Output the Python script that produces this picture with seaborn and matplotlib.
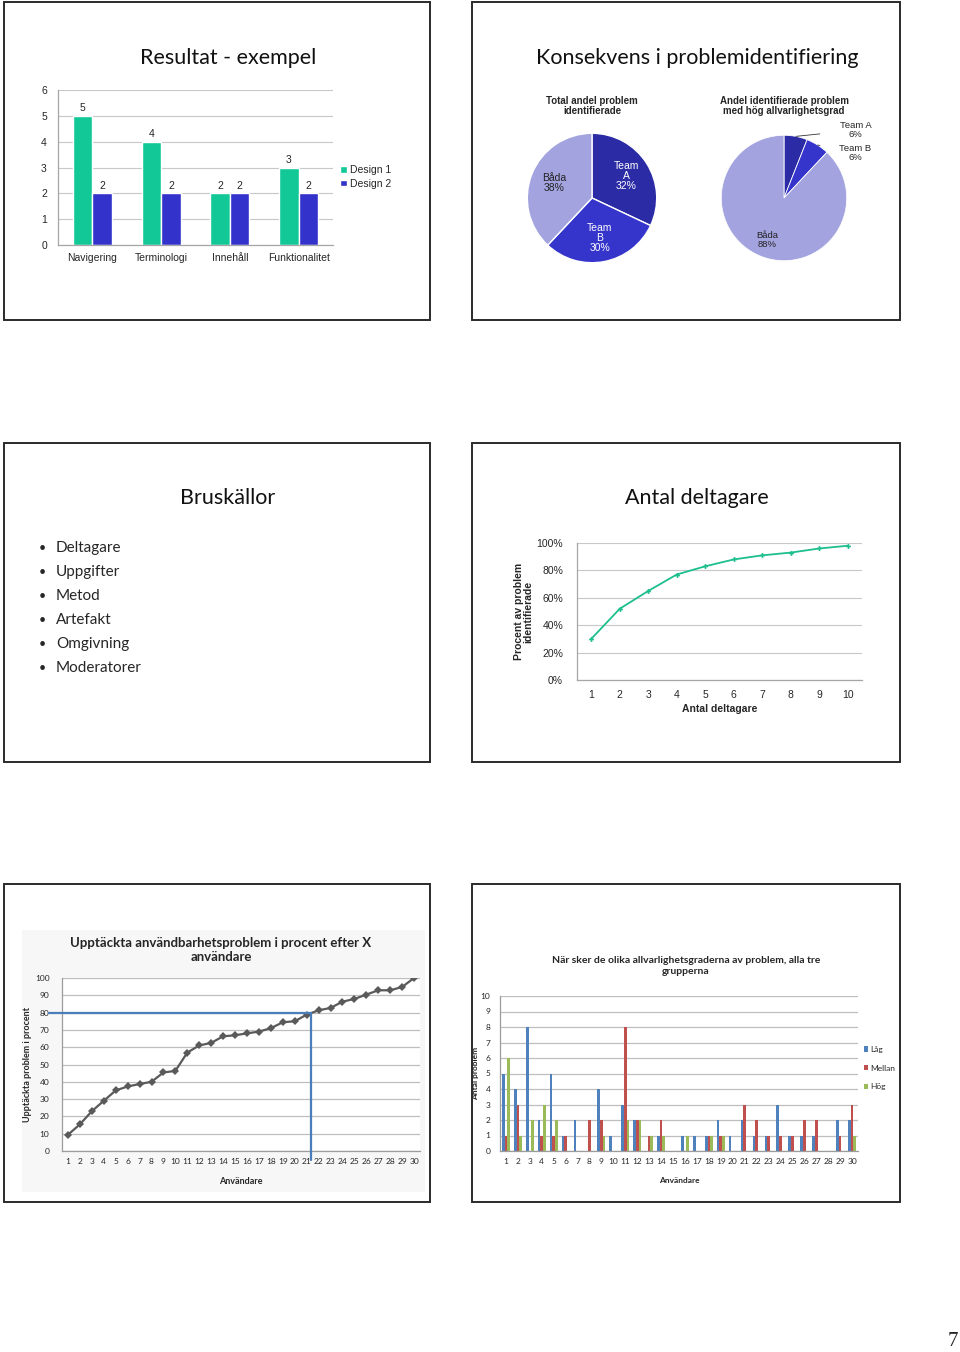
import numpy as np
import pandas as pd
import seaborn as sns
import matplotlib.pyplot as plt
from matplotlib.patches import Rectangle
from matplotlib.ticker import FuncFormatter

# sidans storlek i pixlar
W, H = 960, 1352

# --- data ---
kategorier = ["Navigering", "Terminologi", "Innehåll", "Funktionalitet"]
design_1 = [5, 4, 2, 3]
design_2 = [2, 2, 2, 2]

pie_namn = ["Team A", "Team B", "Båda"]
total_andel = [32, 30, 38]
hog_andel = [6, 6, 88]

bruskallor = ["Deltagare", "Uppgifter", "Metod", "Artefakt", "Omgivning", "Moderatorer"]

antal_deltagare = [1, 2, 3, 4, 5, 6, 7, 8, 9, 10]
procent_identifierade = [30, 52, 65, 77, 83, 88, 91, 93, 96, 98]

anvandare = [1, 2, 3, 4, 5, 6, 7, 8, 9, 10, 11, 12, 13, 14, 15,
             16, 17, 18, 19, 20, 21, 22, 23, 24, 25, 26, 27, 28, 29, 30]
upptackta = [9.4, 15.4, 23, 29, 35, 37.3, 38.7, 40, 45.4, 46.3,
             56.9, 61, 62.5, 66.3, 66.9, 68, 69, 71, 74.4, 75,
             78.8, 81.3, 82.7, 86.3, 87.9, 90.4, 92.9, 92.9, 94.8, 100]

lag    = [5, 4, 8, 2, 5, 1, 2, 0, 4, 1, 3, 2, 0, 1, 0, 1, 1, 1, 2, 1, 2, 1, 1, 3, 1, 1, 1, 0, 2, 2]
mellan = [1, 3, 0, 1, 1, 1, 0, 2, 2, 0, 8, 2, 1, 2, 0, 0, 0, 1, 1, 0, 3, 2, 1, 1, 1, 2, 2, 0, 1, 3]
hog    = [6, 1, 2, 3, 2, 0, 0, 0, 1, 0, 2, 2, 1, 1, 0, 1, 0, 1, 1, 0, 0, 0, 0, 0, 0, 0, 0, 0, 0, 1]

sns.set_style("white")
plt.rcParams["font.family"] = ["Liberation Sans", "DejaVu Sans"]

fig = plt.figure(figsize=(9.6, 13.52), dpi=100)


def rect(x0, y0, x1, y1):
    return [x0 / W, 1 - y1 / H, (x1 - x0) / W, (y1 - y0) / H]


def ftext(x, y, s, **kw):
    fig.text(x / W, 1 - y / H, s, **kw)


def kat_axel(ax, n, first, color="#A6A6A6"):
    # Excel-stil: streck mellan kategorierna
    ax.set_xticks(np.arange(n) + first)
    ax.set_xticks(np.arange(n + 1) + first - 0.5, minor=True)
    ax.tick_params(axis="x", which="major", length=0)
    ax.tick_params(axis="x", which="minor", length=4, color=color, direction="out")
    ax.tick_params(axis="y", length=0)
    for s in ["top", "right"]:
        ax.spines[s].set_visible(False)
    for s in ["left", "bottom"]:
        ax.spines[s].set_color(color)
        ax.spines[s].set_linewidth(0.9)


# ramar runt bilderna
ramar = [(4, 2, 430, 320), (472, 2, 900, 320),
         (4, 443, 430, 762), (472, 443, 900, 762),
         (4, 884, 430, 1202), (472, 884, 900, 1202)]
for x0, y0, x1, y1 in ramar:
    fig.add_artist(Rectangle((x0 / W, 1 - y1 / H), (x1 - x0) / W, (y1 - y0) / H,
                             transform=fig.transFigure, fill=False,
                             edgecolor="#2a2a2a", linewidth=1.4))

rubrik = dict(family=["Lato", "DejaVu Sans"], fontsize=15.5, ha="center", va="center", color="#111111")
ftext(228, 58, "Resultat - exempel", **rubrik)
ftext(697, 58, "Konsekvens i problemidentifiering", **rubrik)
ftext(228, 498, "Bruskällor", **rubrik)
ftext(697, 498, "Antal deltagare", **rubrik)

# 1. Resultat - exempel
gron, bla = "#12C896", "#3333CC"
df1 = pd.DataFrame({"kategori": kategorier * 2,
                    "serie": ["Design 1"] * 4 + ["Design 2"] * 4,
                    "antal": design_1 + design_2})
ax1 = fig.add_axes(rect(58, 90, 333, 245))
sns.barplot(data=df1, x="kategori", y="antal", hue="serie", palette=[gron, bla],
            width=0.57, saturation=1, ax=ax1)
ax1.set_ylim(0, 6)
ax1.set_xlim(-0.5, 3.5)
ax1.set_yticks(range(7))
ax1.yaxis.grid(True, color="#C8C8C8", linewidth=0.8)
ax1.set_axisbelow(True)
kat_axel(ax1, 4, 0)
ax1.set_xlabel("")
ax1.set_ylabel("")
ax1.tick_params(axis="x", labelsize=7.5, pad=6)
ax1.tick_params(axis="y", labelsize=7.5, pad=8)
for c in ax1.containers:
    ax1.bar_label(c, fmt="%d", padding=2, fontsize=7.5)
ax1.legend(loc="center left", bbox_to_anchor=(1.0, 0.44), frameon=False,
           fontsize=7.5, handlelength=0.6, handleheight=0.6, handletextpad=0.3,
           labelspacing=0.35, borderaxespad=0.3)

# 2. Konsekvens i problemidentifiering
pie_farger = ["#2B2BA6", "#3535CC", "#A3A3E0"]
ftext(592, 106, "Total andel problem\nidentifierade", fontsize=7, fontweight="bold",
      ha="center", va="center", linespacing=1.0)
ftext(784, 106, "Andel identifierade problem\nmed hög allvarlighetsgrad", fontsize=7,
      fontweight="bold", ha="center", va="center", linespacing=1.0)

ax2 = fig.add_axes(rect(526, 132, 658, 264))
kilar, _ = ax2.pie(total_andel, colors=pie_farger, startangle=90, counterclock=False,
                   wedgeprops=dict(edgecolor="white", linewidth=1.0))
ax2.set_xlim(-1.02, 1.02)
ax2.set_ylim(-1.02, 1.02)
ax2.set_aspect("equal")
for w, namn, v in zip(kilar, pie_namn, total_andel):
    t = np.deg2rad((w.theta1 + w.theta2) / 2)
    etikett = (namn.replace(" ", "\n") if namn.startswith("Team") else namn) + f"\n{v}%"
    ax2.text(0.63 * np.cos(t), 0.63 * np.sin(t), etikett, ha="center", va="center",
             fontsize=7.5, linespacing=1.0,
             color="white" if namn.startswith("Team") else "#222222")

ax3 = fig.add_axes(rect(720, 134, 848, 262))
kilar, _ = ax3.pie(hog_andel, colors=pie_farger, startangle=90, counterclock=False,
                   wedgeprops=dict(edgecolor="white", linewidth=0.6))
ax3.set_xlim(-1.02, 1.02)
ax3.set_ylim(-1.02, 1.02)
ax3.set_aspect("equal")
utanfor = [(1.14, 1.08), (1.14, 0.72)]
for w, namn, v, pos in zip(kilar[:2], pie_namn[:2], hog_andel[:2], utanfor):
    t = np.deg2rad((w.theta1 + w.theta2) / 2)
    ax3.annotate(f"{namn}\n{v}%", xy=(np.cos(t), np.sin(t)), xytext=pos,
                 ha="center", va="center", fontsize=6.8, linespacing=1.0,
                 arrowprops=dict(arrowstyle="-", color="#333333", lw=0.6,
                                 shrinkA=12, shrinkB=0))
w = kilar[2]
t = np.deg2rad((w.theta1 + w.theta2) / 2)
ax3.text(0.72 * np.cos(t), 0.72 * np.sin(t), f"{pie_namn[2]}\n{hog_andel[2]}%",
         ha="center", va="center", fontsize=6.8, linespacing=1.0, color="#222222")

# 3. Bruskällor
for i, punkt in enumerate(bruskallor):
    y = 548 + i * 24
    ftext(42, y, "•", fontsize=9, ha="center", va="center", family=["Lato", "DejaVu Sans"])
    ftext(56, y, punkt, fontsize=11, ha="left", va="center", family=["Lato", "DejaVu Sans"])

# 4. Antal deltagare
ax4 = fig.add_axes(rect(577, 543, 862, 680))
sns.lineplot(x=antal_deltagare, y=procent_identifierade, color="#1DBF8E", lw=1.3,
             marker="P", markersize=3.5, markeredgewidth=0, ax=ax4)
ax4.set_xlim(0.5, 10.5)
ax4.set_ylim(0, 100)
ax4.set_yticks(range(0, 101, 20))
ax4.yaxis.set_major_formatter(FuncFormatter(lambda v, p: f"{v:.0f}%"))
ax4.yaxis.grid(True, color="#C8C8C8", linewidth=0.8)
ax4.set_axisbelow(True)
kat_axel(ax4, 10, 1)
ax4.tick_params(axis="x", labelsize=7.5, pad=7)
ax4.tick_params(axis="y", labelsize=7.5, pad=10)
ax4.set_xlabel("Antal deltagare", fontsize=7.5, fontweight="bold", labelpad=3)
ax4.set_ylabel("Procent av problem\nidentifierade", fontsize=7.5, fontweight="bold",
               labelpad=2, linespacing=1.0)

# 5. Upptäckta användbarhetsproblem
calibri = ["Lato", "DejaVu Sans"]
fig.add_artist(Rectangle((22 / W, 1 - 1192 / H), 403 / W, 262 / H, transform=fig.transFigure,
                         facecolor="#F7F7F7", edgecolor="none", zorder=-1))
ftext(221, 950, "Upptäckta användbarhetsproblem i procent efter X\nanvändare",
      fontsize=9.5, fontweight="bold", ha="center", va="center", family=calibri,
      linespacing=1.2)
ax5 = fig.add_axes(rect(62, 978, 420, 1151))
ax5.set_facecolor("white")
sns.lineplot(x=anvandare, y=upptackta, color="#5A5A5A", lw=1.6, marker="D",
             markersize=4, markeredgewidth=0, ax=ax5)
ax5.set_xlim(0.5, 30.5)
ax5.set_ylim(0, 100)
ax5.set_yticks(range(0, 101, 10))
ax5.yaxis.grid(True, color="#BEBEBE", linewidth=0.9)
ax5.set_axisbelow(True)
kat_axel(ax5, 30, 1, color="#9C9C9C")
ax5.tick_params(axis="x", labelsize=6, pad=5)
ax5.tick_params(axis="y", labelsize=6, pad=9)
for lab in ax5.get_xticklabels() + ax5.get_yticklabels():
    lab.set_family(calibri)
ax5.set_xlabel("Användare", fontsize=6.5, fontweight="bold", family=calibri, labelpad=9)
ax5.set_ylabel("Upptäckta problem i procent", fontsize=6.5, fontweight="bold",
               family=calibri, labelpad=2)
# 80 %-linjen
ax5.plot([-0.6, 21.4], [80, 80], color="#4A7EBB", lw=1.6, clip_on=False, zorder=3)
ax5.plot([21.4, 21.4], [80, -5], color="#4A7EBB", lw=1.6, clip_on=False, zorder=3)

# 6. Allvarlighetsgrader
ftext(686, 966, "När sker de olika allvarlighetsgraderna av problem, alla tre\ngrupperna",
      fontsize=7.5, fontweight="bold", ha="center", va="center", family=calibri,
      linespacing=1.25)
df6 = pd.DataFrame({"användare": [str(a) for a in anvandare] * 3,
                    "grad": ["Låg"] * 30 + ["Mellan"] * 30 + ["Hög"] * 30,
                    "antal": lag + mellan + hog})
ax6 = fig.add_axes(rect(500, 996, 858, 1151))
sns.barplot(data=df6, x="användare", y="antal", hue="grad",
            palette=["#4F81BD", "#C0504D", "#9BBB59"], width=0.66, saturation=1,
            linewidth=0, ax=ax6)
ax6.set_ylim(0, 10)
ax6.set_xlim(-0.5, 29.5)
ax6.set_yticks(range(11))
ax6.yaxis.grid(True, color="#BEBEBE", linewidth=0.9)
ax6.set_axisbelow(True)
kat_axel(ax6, 30, 0, color="#9C9C9C")
ax6.tick_params(axis="x", labelsize=6, pad=5)
ax6.tick_params(axis="y", labelsize=6, pad=7)
for lab in ax6.get_xticklabels() + ax6.get_yticklabels():
    lab.set_family(calibri)
ax6.set_xlabel("Användare", fontsize=6, fontweight="bold", family=calibri, labelpad=9)
ax6.set_ylabel("Antal problem", fontsize=6, fontweight="bold", family=calibri, labelpad=1)
ax6.legend(loc="center left", bbox_to_anchor=(1.0, 0.535), frameon=False,
           prop=dict(family=calibri, size=6), handlelength=0.5, handleheight=0.6,
           handletextpad=0.3, labelspacing=1.4, borderaxespad=0.3)

# sidnummer
ftext(953, 1342, "7", fontsize=15, ha="center", va="center",
      family=["Liberation Serif", "DejaVu Serif"])

fig.savefig("out.png", dpi=100)
